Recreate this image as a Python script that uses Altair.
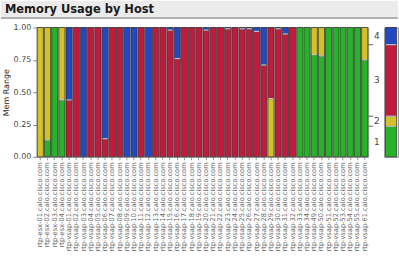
import altair as alt
import pandas as pd

title_text = "Memory Usage by Host"
y_title = "Mem Range"

hosts = [
    "rtp-esx-01.calo.cisco.com", "rtp-esx-02.calo.cisco.com",
    "rtp-esx-03.calo.cisco.com", "rtp-esx-04.calo.cisco.com",
    "rtp-vsap-01.calo.cisco.com", "rtp-vsap-02.calo.cisco.com",
    "rtp-vsap-03.calo.cisco.com", "rtp-vsap-04.calo.cisco.com",
    "rtp-vsap-05.calo.cisco.com", "rtp-vsap-06.calo.cisco.com",
    "rtp-vsap-07.calo.cisco.com", "rtp-vsap-08.calo.cisco.com",
    "rtp-vsap-09.calo.cisco.com", "rtp-vsap-10.calo.cisco.com",
    "rtp-vsap-11.calo.cisco.com", "rtp-vsap-12.calo.cisco.com",
    "rtp-vsap-13.calo.cisco.com", "rtp-vsap-14.calo.cisco.com",
    "rtp-vsap-15.calo.cisco.com", "rtp-vsap-16.calo.cisco.com",
    "rtp-vsap-17.calo.cisco.com", "rtp-vsap-18.calo.cisco.com",
    "rtp-vsap-19.calo.cisco.com", "rtp-vsap-20.calo.cisco.com",
    "rtp-vsap-21.calo.cisco.com", "rtp-vsap-22.calo.cisco.com",
    "rtp-vsap-23.calo.cisco.com", "rtp-vsap-24.calo.cisco.com",
    "rtp-vsap-25.calo.cisco.com", "rtp-vsap-26.calo.cisco.com",
    "rtp-vsap-27.calo.cisco.com", "rtp-vsap-28.calo.cisco.com",
    "rtp-vsap-29.calo.cisco.com", "rtp-vsap-30.calo.cisco.com",
    "rtp-vsap-31.calo.cisco.com", "rtp-vsap-32.calo.cisco.com",
    "rtp-vsap-33.calo.cisco.com", "rtp-vsap-34.calo.cisco.com",
    "rtp-vsap-49.calo.cisco.com", "rtp-vsap-50.calo.cisco.com",
    "rtp-vsap-51.calo.cisco.com", "rtp-vsap-52.calo.cisco.com",
    "rtp-vsap-53.calo.cisco.com", "rtp-vsap-54.calo.cisco.com",
    "rtp-vsap-55.calo.cisco.com", "rtp-vsap-61.calo.cisco.com",
]

# share of each memory range per host (1 = green, 2 = yellow, 3 = red, 4 = blue)
range_1 = [0, 0.13, 1, 0.44, 0, 0, 0, 0, 0, 0,
           0, 0, 0, 0, 0, 0, 0, 0, 0, 0,
           0, 0, 0, 0, 0, 0, 0, 0, 0, 0,
           0, 0, 0, 0, 0, 0, 1, 1, 0.79, 0.78,
           1, 1, 1, 1, 1, 0.75]
range_2 = [1, 0.87, 0, 0.56, 0, 0, 0, 0, 0, 0,
           0, 0, 0, 0, 0, 0, 0, 0, 0, 0,
           0, 0, 0, 0, 0, 0, 0, 0, 0, 0,
           0, 0, 0.45, 0, 0, 0, 0, 0, 0.21, 0.22,
           0, 0, 0, 0, 0, 0.25]
range_3 = [0, 0, 0, 0, 0.44, 1, 0, 1, 1, 0.14,
           1, 1, 0, 0, 1, 0, 1, 1, 0.98, 0.76,
           1, 1, 1, 0.98, 1, 1, 0.99, 1, 0.99, 0.99,
           0.97, 0.71, 0.55, 0.99, 0.95, 1, 0, 0, 0, 0,
           0, 0, 0, 0, 0, 0]
range_4 = [0, 0, 0, 0, 0.56, 0, 1, 0, 0, 0.86,
           0, 0, 1, 1, 0, 1, 0, 0, 0.02, 0.24,
           0, 0, 0, 0.02, 0, 0, 0.01, 0, 0.01, 0.01,
           0.03, 0.29, 0, 0.01, 0.05, 0, 0, 0, 0, 0,
           0, 0, 0, 0, 0, 0]

ranges = ["1", "2", "3", "4"]
colors = ["#27b327", "#d2c127", "#c01b3d", "#2447c2"]
y_ticks = [0, 0.25, 0.5, 0.75, 1]

rows = []
for i, h in enumerate(hosts):
    for r, vals in zip(ranges, [range_1, range_2, range_3, range_4]):
        rows.append({"host": h, "range": r, "value": vals[i]})
df = pd.DataFrame(rows)

FONT = "DejaVu Sans"
W, H = 333, 130
LEFT = 36
color_scale = alt.Scale(domain=ranges, range=colors)
y_scale = alt.Scale(domain=[0, 1], nice=False)
x_scale = alt.Scale(paddingInner=0.14, paddingOuter=0.05)

x_axis = alt.Axis(labelAngle=270, labelFontSize=6.7, labelColor="#666",
                  labelFont=FONT, labelOverlap=False, labelLimit=200,
                  labelPadding=2, tickSize=3, tickColor="#999", domain=False)
y_axis = alt.Axis(title=y_title, format=".2f", values=y_ticks,
                  labelOverlap=False, labelFlush=False,
                  labelFontSize=8, labelColor="#444", labelFont=FONT,
                  titleFont=FONT, titleFontSize=8, titleFontWeight="normal",
                  titleColor="#222", titlePadding=3, tickSize=4,
                  tickColor="#888", labelPadding=2, domain=False, grid=False)

base = alt.Chart(df)

stacked = base.transform_filter("datum.value > 0").transform_stack(
    stack="value", groupby=["host"], sort=[alt.SortField("range", order="ascending")],
    offset="normalize", as_=["y0", "y1"])

bars = stacked.mark_bar(stroke="#333", strokeWidth=0.8).encode(
    x=alt.X("host:N", sort=hosts, title=None, scale=x_scale, axis=x_axis),
    y=alt.Y("y0:Q", title=y_title, scale=y_scale, axis=y_axis),
    y2="y1:Q",
    color=alt.Color("range:N", scale=color_scale, legend=None),
)

seps = stacked.transform_filter("datum.y1 < 0.999").mark_tick(
    color="white", thickness=1.2, size=5.2, orient="horizontal").encode(
    x=alt.X("host:N", sort=hosts, title=None, scale=x_scale, axis=x_axis),
    y=alt.Y("y1:Q", title=y_title, scale=y_scale, axis=y_axis))

summ = base.transform_aggregate(total="sum(value)", groupby=["range"]).transform_stack(
    stack="total", groupby=[], sort=[alt.SortField("range", order="ascending")],
    offset="normalize", as_=["s0", "s1"]).transform_calculate(
    mid="(datum.s0 + datum.s1) / 2", all='"all"')

rticks = summ.transform_filter("datum.s1 < 0.999").mark_rule(
    color="#666", strokeWidth=1).encode(
    x=alt.value(W), x2=alt.value(W + 5),
    y=alt.Y("s1:Q", title=y_title, scale=y_scale, axis=y_axis))
rlabels = summ.mark_text(align="left", baseline="middle", fontSize=9, font=FONT,
                         color="#444").encode(
    x=alt.value(W + 6), y=alt.Y("mid:Q", title=y_title, scale=y_scale, axis=y_axis),
    text="range:N")

main = alt.layer(bars, seps, rticks, rlabels).properties(width=W, height=H)

sbars = summ.mark_bar(stroke="#333", strokeWidth=0.8).encode(
    x=alt.X("all:N", axis=None, scale=alt.Scale(paddingInner=0, paddingOuter=0.12)),
    y=alt.Y("s0:Q", axis=None, scale=y_scale),
    y2="s1:Q",
    color=alt.Color("range:N", scale=color_scale, legend=None),
)
sseps = summ.transform_filter("datum.s1 < 0.999").mark_tick(
    color="white", thickness=1.2, size=10, orient="horizontal").encode(
    x=alt.X("all:N", axis=None), y=alt.Y("s1:Q", axis=None))
summary = alt.layer(sbars, sseps).properties(width=14, height=H)

# header band: drawn from the left edge of the page, aligned with the plot origin
header_df = pd.DataFrame({"t": [title_text]})
hband = alt.Chart(header_df).mark_rect(color="#ebebeb").encode(
    x=alt.value(-LEFT), x2=alt.value(399 - LEFT), y=alt.value(0), y2=alt.value(17))
hline = alt.Chart(header_df).mark_rule(color="#666", strokeWidth=1).encode(
    x=alt.value(-LEFT), x2=alt.value(399 - LEFT), y=alt.value(17.5))
htext = alt.Chart(header_df).mark_text(
    align="left", baseline="middle", font=FONT, fontWeight="bold", fontSize=11.5,
    color="#1a1a1a").encode(x=alt.value(4 - LEFT), y=alt.value(9), text="t:N")
header = alt.layer(hband, hline, htext).properties(
    width=W, height=18, view=alt.ViewBackground(strokeWidth=0))

chart = alt.vconcat(
    header,
    alt.hconcat(main, summary, spacing=2),
    spacing=4,
).properties(padding=0, background="white").configure_view(stroke="#999")

chart.save("out.html", embed_options={"renderer": "svg", "actions": False})
